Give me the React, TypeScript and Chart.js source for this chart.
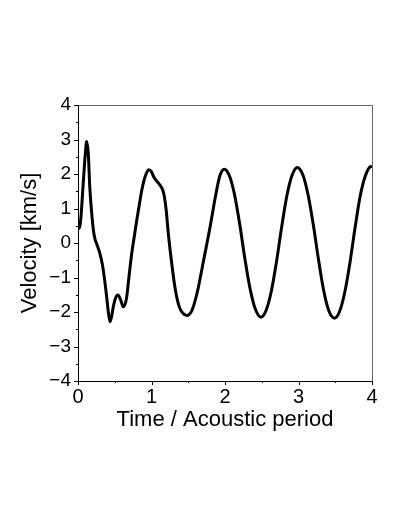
import React, { useEffect, useRef } from "react";
import { Chart, registerables } from "chart.js";

Chart.register(...registerables);

const timeValues: number[] = [
  0.0, 0.02, 0.04, 0.07, 0.1, 0.118, 0.14, 0.16, 0.185, 0.209, 0.23, 0.254, 0.28, 0.3, 0.325,
  0.345, 0.37, 0.39, 0.41, 0.435, 0.46, 0.48, 0.51, 0.545, 0.58, 0.617, 0.66, 0.695, 0.73, 0.765,
  0.8, 0.835, 0.867, 0.9, 0.93, 0.965, 1.0, 1.03, 1.06, 1.1, 1.14, 1.17, 1.2, 1.23, 1.27, 1.32,
  1.37, 1.42, 1.48, 1.55, 1.62, 1.7, 1.8, 1.87, 1.93, 1.99, 2.06, 2.13, 2.2, 2.27, 2.34, 2.41,
  2.49, 2.56, 2.63, 2.7, 2.77, 2.84, 2.91, 2.985, 3.06, 3.13, 3.2, 3.27, 3.34, 3.41, 3.49, 3.56,
  3.63, 3.7, 3.77, 3.84, 3.91, 3.97, 4.0,
];

const velocityValues: number[] = [
  0.42, 0.45, 0.75, 1.7, 2.6, 2.94, 2.6, 1.63, 0.9, 0.38, 0.12, -0.02, -0.18, -0.32, -0.55,
  -0.8, -1.2, -1.56, -1.95, -2.28, -2.1, -1.85, -1.6, -1.51, -1.65, -1.85, -1.6, -0.95, -0.32, 0.18,
  0.67, 1.12, 1.52, 1.83, 2.02, 2.12, 2.06, 1.92, 1.82, 1.72, 1.6, 1.4, 0.95, 0.25, -0.5, -1.3,
  -1.8, -2.02, -2.1, -1.95, -1.45, -0.6, 0.5, 1.35, 1.95, 2.14, 1.95, 1.4, 0.55, -0.45, -1.31, -1.9,
  -2.15, -1.95, -1.4, -0.55, 0.45, 1.35, 1.95, 2.19, 1.97, 1.4, 0.55, -0.45, -1.35, -1.95, -2.18, -1.98,
  -1.42, -0.57, 0.45, 1.37, 1.95, 2.2, 2.22,
];

const xTickValues: number[] = [0, 1, 2, 3, 4];
const xMinorTickValues: number[] = [0.5, 1.5, 2.5, 3.5];
const yTickValues: number[] = [-4, -3, -2, -1, 0, 1, 2, 3, 4];
const yMinorTickValues: number[] = [-3.5, -2.5, -1.5, -0.5, 0.5, 1.5, 2.5, 3.5];

const xTitle = "Time / Acoustic period";
const yTitle = "Velocity [km/s]";

const FONT = "'Liberation Sans', Arial, Helvetica, sans-serif";

const framePlugin = {
  id: "frame",
  beforeDatasetsDraw(chart: any) {
    const { ctx, chartArea, scales } = chart;
    const { left, right, top, bottom } = chartArea;
    const xs = scales.x;
    const ys = scales.y;
    ctx.save();
    ctx.strokeStyle = "#666666";
    ctx.lineWidth = 1;
    ctx.beginPath();
    ctx.moveTo(left, top + 0.5);
    ctx.lineTo(right + 0.5, top + 0.5);
    ctx.lineTo(right + 0.5, bottom);
    ctx.stroke();
    ctx.strokeStyle = "#000000";
    ctx.beginPath();
    ctx.moveTo(left + 0.5, top);
    ctx.lineTo(left + 0.5, bottom + 0.5);
    ctx.lineTo(right + 1, bottom + 0.5);
    ctx.stroke();
    ctx.beginPath();
    for (const v of yTickValues) {
      const p = Math.round(ys.getPixelForValue(v)) + 0.5;
      ctx.moveTo(left - 4, p);
      ctx.lineTo(left, p);
    }
    for (const v of yMinorTickValues) {
      const p = Math.round(ys.getPixelForValue(v)) + 0.5;
      ctx.moveTo(left - 2, p);
      ctx.lineTo(left, p);
    }
    for (const v of xTickValues) {
      const p = Math.round(xs.getPixelForValue(v)) + 0.5;
      ctx.moveTo(p, bottom);
      ctx.lineTo(p, bottom + 4);
    }
    for (const v of xMinorTickValues) {
      const p = Math.round(xs.getPixelForValue(v)) + 0.5;
      ctx.moveTo(p, bottom);
      ctx.lineTo(p, bottom + 2);
    }
    ctx.stroke();
    ctx.restore();
  },
};

export default function App() {
  const canvasRef = useRef<HTMLCanvasElement | null>(null);

  useEffect(() => {
    const canvas = canvasRef.current;
    if (!canvas) return;
    const data = timeValues.map((t, i) => ({ x: t, y: velocityValues[i] }));
    const chart = new Chart(canvas, {
      type: "line",
      data: {
        datasets: [
          {
            data,
            borderColor: "#000000",
            borderWidth: 3,
            pointRadius: 0,
            fill: false,
            cubicInterpolationMode: "monotone",
          },
        ],
      },
      options: {
        responsive: false,
        animation: false,
        layout: { padding: { left: 0, top: 105, right: 35, bottom: 0 } },
        plugins: { legend: { display: false }, tooltip: { enabled: false } },
        scales: {
          x: {
            type: "linear",
            min: 0,
            max: 4,
            afterFit: (scale: any) => {
              scale.height = 146;
            },
            afterBuildTicks: (scale: any) => {
              scale.ticks = xTickValues.map((v) => ({ value: v }));
            },
            grid: { display: false, drawTicks: false },
            border: { display: false },
            ticks: {
              color: "#000000",
              padding: 4,
              maxRotation: 0,
              font: { family: FONT, size: 20 },
              callback: (v: any) => String(v),
            },
            title: {
              display: true,
              text: xTitle,
              color: "#000000",
              font: { family: FONT, size: 22 },
              padding: { top: 0, bottom: 94 },
            },
          },
          y: {
            type: "linear",
            min: -4,
            max: 4,
            afterFit: (scale: any) => {
              scale.width = 78;
            },
            afterBuildTicks: (scale: any) => {
              scale.ticks = yTickValues.map((v) => ({ value: v }));
            },
            grid: { display: false, drawTicks: false },
            border: { display: false },
            ticks: {
              color: "#000000",
              padding: 7,
              font: { family: FONT, size: 19 },
              callback: (v: any) => (Number(v) < 0 ? "\u2212" + String(Math.abs(Number(v))) : String(v)),
            },
            title: {
              display: true,
              text: yTitle,
              color: "#000000",
              font: { family: FONT, size: 22 },
              padding: { top: 17, bottom: 0 },
            },
          },
        },
      },
      plugins: [framePlugin],
    } as any);
    return () => chart.destroy();
  }, []);

  return (
    <div style={{ position: "fixed", left: 0, top: 0, width: 407, height: 527, background: "#ffffff" }}>
      <canvas ref={canvasRef} width={407} height={527} style={{ width: 407, height: 527, display: "block" }} />
    </div>
  );
}
